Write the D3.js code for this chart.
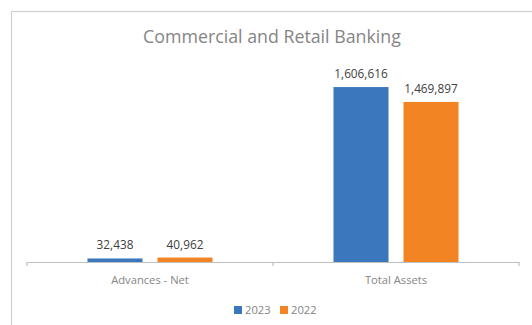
<!DOCTYPE html>
<html><head><meta charset="utf-8">
<script src="https://cdn.jsdelivr.net/npm/d3@7"></script>
<style>body{margin:0;background:#fff;}svg{display:block;}</style>
</head><body>
<script>
const title = "Commercial and Retail Banking";
const categories = ["Advances - Net", "Total Assets"];
const seriesNames = ["2023", "2022"];
const values2023 = [32438, 1606616];
const values2022 = [40962, 1469897];
const colors = ["#3a77bd", "#f28424"];

const W = 532, H = 325;
const svg = d3.select("body").append("svg").attr("width", W).attr("height", H);
svg.append("rect").attr("x", 11.5).attr("y", 11.5).attr("width", 540).attr("height", 340)
  .attr("fill", "#fff").attr("stroke", "#d0d0d0").attr("stroke-width", 1.2);

const font = "'Open Sans', sans-serif";
svg.append("text").attr("x", 272).attr("y", 43).attr("text-anchor", "middle")
  .attr("font-family", font).attr("font-size", 17.8).attr("fill", "#858585").text(title);

const x0 = d3.scaleBand().domain(categories).range([27, 519]).paddingInner(0).paddingOuter(0);
const x1 = d3.scaleBand().domain(seriesNames).range([0, x0.bandwidth()]).paddingInner(0.214).paddingOuter(0.864);
const y = d3.scaleLinear().domain([0, 1800000]).range([262, 66]);

const data = categories.map((c, i) => ({cat: c, vals: [values2023[i], values2022[i]]}));
const g = svg.append("g");
data.forEach(d => {
  d.vals.forEach((v, j) => {
    const bx = x0(d.cat) + x1(seriesNames[j]);
    g.append("rect").attr("x", bx).attr("y", y(v)).attr("width", x1.bandwidth())
      .attr("height", y(0) - y(v)).attr("fill", colors[j]);
    g.append("text").attr("x", bx + x1.bandwidth() / 2).attr("y", y(v) - 9)
      .attr("text-anchor", "middle").attr("font-family", font).attr("font-size", 11.8)
      .attr("fill", "#404040").text(d3.format(",")(v));
  });
});

const ax = svg.append("g").attr("transform", "translate(0,262)")
  .call(d3.axisBottom(x0).tickSize(0).tickFormat(""));
ax.select(".domain").attr("stroke", "#bfbfbf").attr("stroke-width", 1.2);
ax.selectAll(".tick").remove();
[0, 1, 2].forEach(i => {
  const tx = 27 + i * x0.bandwidth();
  ax.append("line").attr("x1", tx).attr("x2", tx).attr("y1", 0).attr("y2", 4)
    .attr("stroke", "#bfbfbf").attr("stroke-width", 1.2);
});
categories.forEach(c => {
  svg.append("text").attr("x", x0(c) + x0.bandwidth() / 2).attr("y", 284)
    .attr("text-anchor", "middle").attr("font-family", font).attr("font-size", 11.2)
    .attr("fill", "#858585").text(c);
});

const leg = svg.append("g");
const legX = [234, 280];
seriesNames.forEach((s, j) => {
  leg.append("rect").attr("x", legX[j]).attr("y", 306).attr("width", 8).attr("height", 8).attr("fill", colors[j]);
  leg.append("text").attr("x", legX[j] + 11).attr("y", 314).attr("font-family", font)
    .attr("font-size", 11.2).attr("fill", "#858585").text(s);
});
</script>
</body></html>
